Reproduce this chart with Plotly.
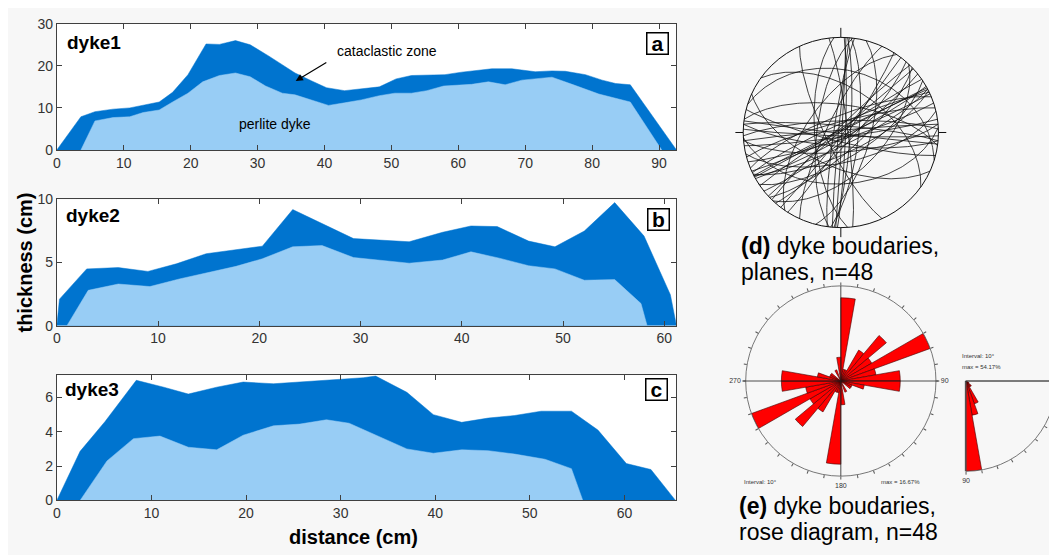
import numpy as np
import plotly.graph_objects as go

# page is rendered with an 8px body margin, so the figure is sized/offset accordingly
OFF = 8
W, H = 1057 - OFF, 555 - OFF

# ---------------- data ----------------
# dyke1 (panel a)
d1_outer_x = [0, 3.6, 5.7, 8.4, 10.9, 12.9, 15.3, 17.3, 19.6, 22.3, 24.3, 26.7, 28.9, 31.7, 35.6, 38.1, 40.3, 43.0, 45.5,
              48.2, 50.7, 53.0, 58.0, 60.5, 65.0, 68.0, 71.5, 74.0, 76.0, 79.0, 81.5, 83.5, 85.7, 92.6]
d1_outer_y = [0, 7.9, 9.1, 9.7, 10.0, 10.6, 11.4, 13.7, 17.9, 25.2, 25.1, 26.0, 25.0, 22.3, 18.3, 16.4, 14.8, 14.1, 14.6,
              15.0, 16.9, 17.7, 17.9, 18.5, 19.3, 19.3, 18.6, 18.8, 18.7, 17.9, 16.6, 15.8, 15.5, 0]
d1_inner_x = [3.6, 5.7, 8.4, 10.9, 12.9, 15.3, 17.3, 19.6, 21.8, 24.3, 26.7, 28.9, 31.2, 33.7, 35.6, 38.1, 40.6, 43.0,
              45.5, 48.2, 50.5, 53.0, 55.3, 57.8, 62.0, 64.5, 67.0, 69.5, 74.0, 77.0, 81.0, 85.7, 90.4]
d1_inner_y = [0, 6.9, 7.7, 7.9, 8.9, 9.5, 11.4, 13.5, 16.2, 17.7, 18.3, 17.4, 15.2, 13.5, 13.1, 11.8, 10.6, 11.2,
              11.9, 12.9, 13.5, 13.5, 14.1, 15.2, 15.6, 16.2, 15.5, 16.6, 17.3, 15.6, 13.3, 11.4, 0]

# dyke2 (panel b)
d2_outer_x = [0, 0.26, 2.95, 6.07, 9.0, 11.8, 14.75, 17.7, 20.3, 23.3, 26.2, 29.3, 34.8, 38.1, 40.9, 43.5, 46.6,
              49.2, 52.1, 55.1, 58.0, 60.6, 61.2]
d2_outer_y = [0, 2.1, 4.5, 4.6, 4.3, 4.9, 5.7, 6.05, 6.3, 9.2, 8.1, 6.9, 6.65, 7.4, 7.9, 7.85, 6.7,
              6.25, 7.5, 9.75, 7.1, 2.45, 0]
d2_inner_x = [1.0, 3.1, 6.07, 9.2, 12.1, 14.75, 17.7, 20.3, 23.3, 26.2, 29.3, 34.8, 38.1, 40.9, 43.7, 46.6, 49.2,
              52.1, 55.1, 57.7, 58.3]
d2_inner_y = [0, 2.8, 3.3, 3.1, 3.7, 4.2, 4.7, 5.3, 6.25, 6.35, 5.4, 4.95, 5.2, 5.85, 5.35, 4.75, 4.5,
              3.6, 3.65, 1.75, 0]

# dyke3 (panel c)
d3_outer_x = [0, 2.46, 5.1, 8.4, 11.3, 13.9, 16.9, 19.7, 22.9, 25.7, 28.2, 32.4, 33.7, 37.0, 39.8, 42.8, 45.6,
              48.4, 51.2, 54.4, 57.2, 60.2, 62.8, 65.4]
d3_outer_y = [0, 2.86, 4.6, 7.0, 6.6, 6.2, 6.6, 6.9, 6.8, 6.9, 7.0, 7.15, 7.25, 6.3, 5.0, 4.55, 4.8,
              4.95, 5.2, 5.2, 4.1, 2.15, 1.8, 0]
d3_inner_x = [2.46, 5.3, 8.1, 10.9, 13.9, 16.9, 19.7, 22.9, 25.7, 28.5, 30.9, 33.7, 37.0, 39.8, 42.8, 45.6, 48.4,
              51.6, 54.4, 55.6]
d3_inner_y = [0, 2.3, 3.6, 3.75, 3.1, 2.95, 3.8, 4.35, 4.45, 4.7, 4.5, 3.8, 3.0, 2.75, 2.95, 2.9, 2.7,
              2.4, 1.85, 0]

# dyke boundary planes (strike, dip), n=48
plane_strike = [2, 4, 185, 6, 188, 3, 187, 15, 205, 33, 215, 38, 42, 225, 47, 228, 44, 52, 236, 57,
                61, 243, 63, 245, 66, 248, 64, 242, 72, 255, 77, 82, 265, 85, 268, 87, 92, 275, 95, 278,
                97, 104, 287, 114, 305, 155, 353, 176]
plane_dip = [86, 82, 88, 75, 84, 89, 70, 65, 78, 85, 62, 88, 80, 86, 74, 89, 55, 83, 87, 68,
             85, 88, 79, 83, 87, 76, 72, 89, 84, 81, 64, 86, 88, 73, 80, 45, 87, 84, 78, 66,
             89, 82, 35, 60, 52, 77, 84, 68]

# strike rose: counts per 10 deg bin 0-180 (bidirectional), n=48
strike_bins = list(range(0, 180, 10))
strike_counts = [7, 1, 1, 3, 5, 3, 8, 3, 5, 5, 2, 1, 1, 0, 0, 1, 0, 2]
# dip rose: counts per 10 deg bin 0-90
dip_bins = list(range(0, 90, 10))
dip_counts = [0, 0, 0, 1, 2, 2, 7, 10, 26]
N_PLANES = 48

DARK = "#0074cf"
LIGHT = "#98cdf5"
FONT = "Liberation Sans, Arial, sans-serif"


def px(x):
    return (x - OFF) / W


def py(y):
    return 1 - (y - OFF) / H


def great_circle(strike, dip, n=121):
    s = np.radians(strike)
    d = np.radians(dip)
    r = np.radians(np.linspace(0, 180, n))
    sv = np.array([np.sin(s), np.cos(s), 0.0])
    dd = s + np.pi / 2
    dv = np.array([np.cos(d) * np.sin(dd), np.cos(d) * np.cos(dd), -np.sin(d)])
    v = np.outer(np.cos(r), sv) + np.outer(np.sin(r), dv)
    plunge = np.arcsin(np.clip(-v[:, 2], -1, 1))
    trend = np.arctan2(v[:, 0], v[:, 1])
    rho = np.sqrt(2) * np.sin((np.pi / 2 - plunge) / 2)
    return rho * np.sin(trend), rho * np.cos(trend)


fig = go.Figure()

panels = [
    ("x", "y", d1_outer_x, d1_outer_y, d1_inner_x, d1_inner_y),
    ("x2", "y2", d2_outer_x, d2_outer_y, d2_inner_x, d2_inner_y),
    ("x3", "y3", d3_outer_x, d3_outer_y, d3_inner_x, d3_inner_y),
]
for xa, ya, ox, oy, ix, iy in panels:
    fig.add_trace(go.Scatter(x=ox, y=oy, xaxis=xa, yaxis=ya, mode="lines", fill="tozeroy",
                             fillcolor=DARK, line=dict(color=DARK, width=0.5), showlegend=False,
                             hoverinfo="skip"))
    fig.add_trace(go.Scatter(x=ix, y=iy, xaxis=xa, yaxis=ya, mode="lines", fill="tozeroy",
                             fillcolor=LIGHT, line=dict(color=LIGHT, width=0.5), showlegend=False,
                             hoverinfo="skip"))

# stereonet great circles
gx, gy = [], []
for s, d in zip(plane_strike, plane_dip):
    cx, cy = great_circle(s, d)
    gx += list(cx) + [None]
    gy += list(cy) + [None]
fig.add_trace(go.Scatter(x=gx, y=gy, xaxis="x4", yaxis="y4", mode="lines",
                         line=dict(color="#111", width=0.8), showlegend=False, hoverinfo="skip"))

# strike rose (bidirectional)
theta_s = [b + 5 for b in strike_bins] + [b + 185 for b in strike_bins]
r_s = [c / N_PLANES * 100 for c in strike_counts] * 2
fig.add_trace(go.Barpolar(theta=theta_s, r=r_s, width=[10] * len(theta_s), subplot="polar",
                          marker=dict(color="#ff0000", line=dict(color="#400000", width=0.6)),
                          showlegend=False, hoverinfo="skip"))
# dip rose
theta_d = [b + 5 for b in dip_bins]
r_d = [c / N_PLANES * 100 for c in dip_counts]
fig.add_trace(go.Barpolar(theta=theta_d, r=r_d, width=[10] * len(theta_d), subplot="polar2",
                          marker=dict(color="#ff0000", line=dict(color="#400000", width=0.6)),
                          showlegend=False, hoverinfo="skip"))

axis_common = dict(showline=True, linecolor="#404040", linewidth=1, mirror="ticks", ticks="inside",
                   ticklen=5, tickcolor="#404040", showgrid=False, zeroline=False,
                   tickfont=dict(family=FONT, size=14, color="#333"), fixedrange=True)

xl, xr = px(53), px(675)
fig.update_layout(
    width=W, height=H, margin=dict(l=0, r=0, t=0, b=0),
    paper_bgcolor="#f7f7f7", plot_bgcolor="rgba(0,0,0,0)",
    xaxis=dict(axis_common, domain=[xl, xr], range=[0, 92.6], tickvals=list(range(0, 91, 10)), anchor="y"),
    yaxis=dict(axis_common, domain=[py(146), py(16)], range=[0, 30], tickvals=[0, 10, 20, 30], anchor="x"),
    xaxis2=dict(axis_common, domain=[xl, xr], range=[0, 61.2], tickvals=list(range(0, 61, 10)), anchor="y2"),
    yaxis2=dict(axis_common, domain=[py(327), py(197)], range=[0, 10], tickvals=[0, 5, 10], anchor="x2"),
    xaxis3=dict(axis_common, domain=[xl, xr], range=[0, 65.5], tickvals=list(range(0, 61, 10)), anchor="y3"),
    yaxis3=dict(axis_common, domain=[py(507), py(378)], range=[0, 7.3], tickvals=[0, 2, 4, 6], anchor="x3"),
    xaxis4=dict(domain=[px(730), px(950)], range=[-110 / 98, 110 / 98], visible=False, anchor="y4"),
    yaxis4=dict(domain=[py(238), py(18)], range=[-110 / 98, 110 / 98], visible=False, anchor="x4"),
    polar=dict(
        domain=dict(x=[px(742), px(938)], y=[py(482), py(286)]),
        bgcolor="rgba(0,0,0,0)",
        angularaxis=dict(rotation=90, direction="clockwise", tickmode="array",
                         tickvals=list(range(0, 360, 10)),
                         ticktext=["90" if a == 90 else "180" if a == 180 else "270" if a == 270 else ""
                                   for a in range(0, 360, 10)],
                         ticks="outside", ticklen=3, tickcolor="#555", showgrid=False,
                         linecolor="#555", linewidth=0.8, tickfont=dict(family=FONT, size=7, color="#333")),
        radialaxis=dict(visible=False, range=[0, 16.67]),
    ),
    polar2=dict(
        domain=dict(x=[px(965), 1.0], y=[py(477), py(384)]),
        sector=[-90, 0],
        bgcolor="rgba(0,0,0,0)",
        angularaxis=dict(rotation=0, direction="clockwise", tickmode="array",
                         tickvals=list(range(0, 91, 10)),
                         ticktext=["90" if a == 90 else "" for a in range(0, 91, 10)],
                         ticks="outside", ticklen=3, tickcolor="#555", showgrid=False,
                         linecolor="#555", linewidth=0.8, tickfont=dict(family=FONT, size=7, color="#333")),
        radialaxis=dict(visible=False, range=[0, 54.17]),
    ),
)

shapes = []
for xa, ya in [("x", "y"), ("x2", "y2"), ("x3", "y3")]:
    shapes.append(dict(type="rect", xref=xa + " domain", yref=ya + " domain", x0=0, x1=1, y0=0, y1=1,
                       fillcolor="white", line=dict(width=0), layer="below"))
# stereonet primitive and ticks
shapes.append(dict(type="circle", xref="x4", yref="y4", x0=-1, x1=1, y0=-1, y1=1,
                   line=dict(color="#111", width=1)))
for (x0, y0, x1, y1) in [(0, 1, 0, 1.1), (0, -1, 0, -1.1), (1, 0, 1.08, 0), (-1, 0, -1.08, 0)]:
    shapes.append(dict(type="line", xref="x4", yref="y4", x0=x0, y0=y0, x1=x1, y1=y1,
                       line=dict(color="#111", width=1)))
# rose cross lines
for (x0, y0, x1, y1) in [(742, 384, 938, 384), (840, 286, 840, 482), (965, 384, 1057, 384), (965, 384, 965, 477)]:
    shapes.append(dict(type="line", xref="paper", yref="paper", x0=px(x0), y0=py(y0), x1=px(x1), y1=py(y1),
                       line=dict(color="#222", width=0.8)))
fig.update_layout(shapes=shapes)

ann = []


def txt(x, y, t, size, bold=False, xanchor="center", color="black", **kw):
    if bold:
        t = "<b>" + t + "</b>"
    ann.append(dict(x=px(x), y=py(y), xref="paper", yref="paper", text=t, showarrow=False,
                    xanchor=xanchor, yanchor="middle", font=dict(family=FONT, size=size, color=color), **kw))


txt(61, 35, "dyke1", 19, bold=True, xanchor="left")
txt(60, 213, "dyke2", 19, bold=True, xanchor="left")
txt(59, 393, "dyke3", 19, bold=True, xanchor="left")
for x, y, lab in [(656, 36, "a"), (657, 218, "b"), (655, 393, "c")]:
    txt(x, y, lab, 21, bold=True, bordercolor="black", borderwidth=1.5, bgcolor="white", borderpad=0,
        width=20, height=20, align="center")
txt(384, 44, "cataclastic zone", 14)
txt(272, 119, "perlite dyke", 14)
ann.append(dict(x=35.7, y=16.4, ax=40.5, ay=21.0, xref="x", yref="y", axref="x", ayref="y",
                text="", showarrow=True, arrowhead=2, arrowsize=1.2, arrowwidth=1.2, arrowcolor="black"))
txt(351, 545, "distance (cm)", 20, bold=True)
ann.append(dict(x=px(21), y=py(262), xref="paper", yref="paper", text="<b>thickness (cm)</b>", showarrow=False,
                textangle=-90, xanchor="center", yanchor="middle",
                font=dict(family=FONT, size=20, color="black")))
txt(738, 245, "<b>(d)</b> dyke boudaries,", 23, xanchor="left")
txt(738, 272, "planes, n=48", 23, xanchor="left")
txt(736, 513, "<b>(e)</b> dyke boudaries,", 23, xanchor="left")
txt(736, 540, "rose diagram, n=48", 23, xanchor="left")
txt(741, 488, "Interval: 10°", 6, xanchor="left", color="#333")
txt(878, 488, "max = 16.67%", 6, xanchor="left", color="#333")
txt(960, 358, "Interval: 10°", 6, xanchor="left", color="#333")
txt(960, 370, "max = 54.17%", 6, xanchor="left", color="#333")
fig.update_layout(annotations=ann)

fig.write_html("out.html")
